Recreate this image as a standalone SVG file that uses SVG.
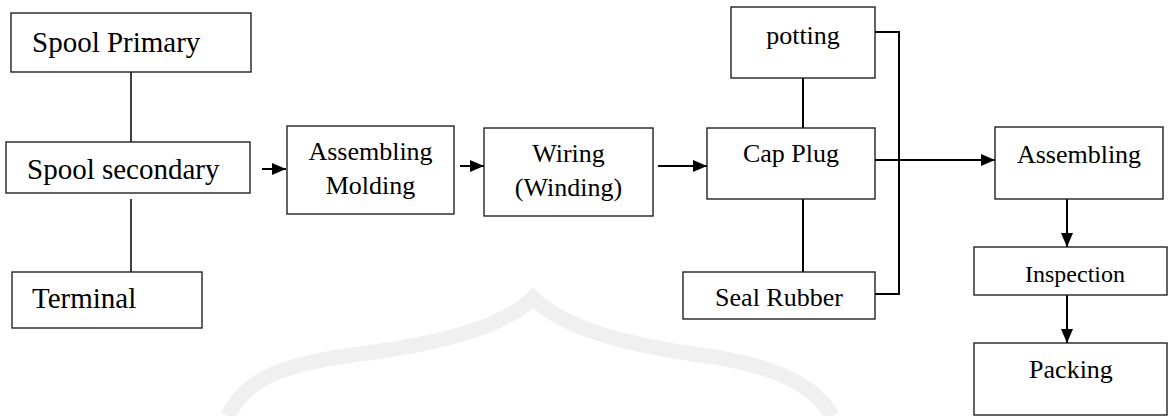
<svg xmlns="http://www.w3.org/2000/svg" width="1168" height="416" viewBox="0 0 1168 416">
  <defs>
    <marker id="arr" viewBox="0 0 14 12" refX="14" refY="6" markerWidth="14" markerHeight="12" markerUnits="userSpaceOnUse" orient="auto">
      <path d="M0,0 L14,6 L0,12 z" fill="#000"/>
    </marker>
  </defs>
  <style>
    .box { fill: #fff; stroke: #222; stroke-width: 1.4; }
    .t { font-family: "Liberation Serif", "Times New Roman", serif; fill: #000; }
    .big { font-size: 29px; }
    .mid { font-size: 26px; }
    .sm { font-size: 24px; }
    .c { text-anchor: middle; }
    .ln { stroke: #000; stroke-width: 2; fill: none; }
    .thin { stroke: #000; stroke-width: 1.5; fill: none; }
  </style>
  <rect width="1168" height="416" fill="#fff"/>
  <path id="watermark" d="M228 416 C 245 380, 280 365, 353 355 C 430 345, 500 330, 533 298 C 566 330, 630 345, 700 355 C 775 365, 815 385, 832 416" fill="none" stroke="#f0f0f0" stroke-width="15" stroke-linejoin="miter"/>

  <g id="connectors">
    <line class="thin" x1="131" y1="72" x2="131" y2="145"/>
    <line class="thin" x1="131" y1="199" x2="131" y2="272"/>
    <line class="ln" x1="262" y1="169" x2="286" y2="169" marker-end="url(#arr)"/>
    <line class="ln" x1="460" y1="166" x2="484" y2="166" marker-end="url(#arr)"/>
    <line class="ln" x1="658" y1="166" x2="707" y2="166" marker-end="url(#arr)"/>
    <line class="ln" x1="803" y1="78" x2="803" y2="128"/>
    <line class="ln" x1="803" y1="199" x2="803" y2="272"/>
    <polyline class="ln" points="875,32 899,32 899,294 875,294"/>
    <line class="ln" x1="875" y1="160" x2="995" y2="160" marker-end="url(#arr)"/>
    <line class="ln" x1="1067" y1="199" x2="1067" y2="247" marker-end="url(#arr)"/>
    <line class="ln" x1="1067" y1="295" x2="1067" y2="343" marker-end="url(#arr)"/>
  </g>

  <g id="spool-primary">
    <rect class="box" x="11" y="13" width="240" height="59"/>
    <text class="t big" x="32" y="52">Spool Primary</text>
  </g>
  <g id="spool-secondary">
    <rect class="box" x="6" y="142" width="244" height="51"/>
    <text class="t big" x="27" y="179">Spool secondary</text>
  </g>
  <g id="terminal">
    <rect class="box" x="12" y="272" width="190" height="56"/>
    <text class="t big" x="32" y="308">Terminal</text>
  </g>
  <g id="assembling-molding">
    <rect class="box" x="287" y="126" width="167" height="88"/>
    <text class="t mid c" x="370.5" y="160">Assembling</text>
    <text class="t mid c" x="370.5" y="194">Molding</text>
  </g>
  <g id="wiring">
    <rect class="box" x="484" y="128" width="169" height="88"/>
    <text class="t mid c" x="568.5" y="162">Wiring</text>
    <text class="t mid c" x="568.5" y="196">(Winding)</text>
  </g>
  <g id="potting">
    <rect class="box" x="731" y="7" width="144" height="71"/>
    <text class="t mid c" x="803" y="44">potting</text>
  </g>
  <g id="cap-plug">
    <rect class="box" x="707" y="128" width="168" height="71"/>
    <text class="t mid c" x="791" y="162">Cap Plug</text>
  </g>
  <g id="seal-rubber">
    <rect class="box" x="683" y="272" width="192" height="47"/>
    <text class="t mid c" x="779" y="306">Seal Rubber</text>
  </g>
  <g id="assembling">
    <rect class="box" x="995" y="127" width="168" height="72"/>
    <text class="t mid c" x="1079" y="163">Assembling</text>
  </g>
  <g id="inspection">
    <rect class="box" x="974" y="247" width="193" height="48"/>
    <text class="t sm c" x="1075" y="282">Inspection</text>
  </g>
  <g id="packing">
    <rect class="box" x="974" y="343" width="193" height="72"/>
    <text class="t mid c" x="1071" y="378">Packing</text>
  </g>
</svg>
